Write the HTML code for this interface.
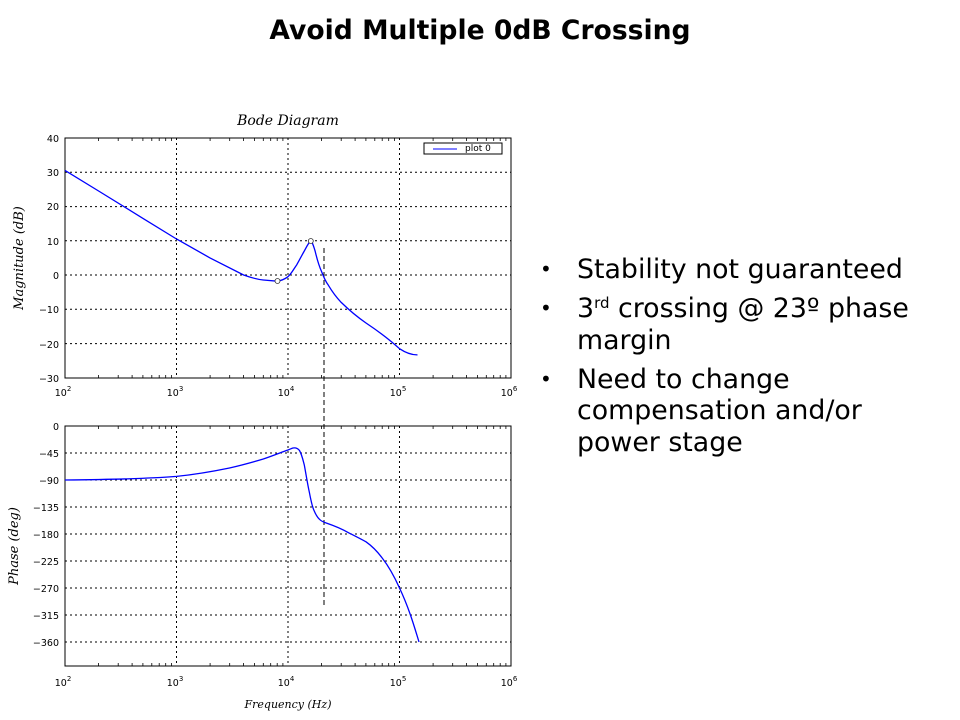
<!DOCTYPE html>
<html><head><meta charset="utf-8"><style>
body{margin:0;width:960px;height:720px;background:#fff;overflow:hidden;font-family:"DejaVu Sans","Liberation Sans",sans-serif;position:relative}
.t{position:absolute;top:15px;left:0;width:960px;text-align:center;font-weight:bold;font-size:26.6px;color:#000}
ul{position:absolute;left:540px;top:254px;width:385px;margin:0;padding:0;list-style:none;font-size:26.8px;line-height:31.5px;color:#000}
li{position:relative;padding-left:37px;margin-bottom:7.5px}
li:before{content:"•";position:absolute;left:0;font-size:20px}
sup{font-size:15px;vertical-align:top;line-height:20px}
</style></head><body>
<div class="t">Avoid Multiple 0dB Crossing</div>
<svg width="960" height="720" style="position:absolute;left:0;top:0" font-family="DejaVu Sans,sans-serif" font-size="9.5">
<defs>
<g id="mt">
<path d="M33.6,0v3M53.2,0v3M67.1,0v3M77.9,0v3M86.8,0v3M94.2,0v3M100.7,0v3M106.4,0v3" stroke="#000" stroke-width="0.8"/>
</g>
<g id="mb">
<path d="M33.6,0v-3M53.2,0v-3M67.1,0v-3M77.9,0v-3M86.8,0v-3M94.2,0v-3M100.7,0v-3M106.4,0v-3" stroke="#000" stroke-width="0.8"/>
</g>
</defs>
<text x="288" y="125" text-anchor="middle" font-family="DejaVu Serif,serif" font-style="italic" font-size="14">Bode Diagram</text>
<g stroke="#000" stroke-width="1" stroke-dasharray="2,3" fill="none">
<path d="M176.5,138V378M288,138V378M399.5,138V378"/>
<path d="M65,172.3H511M65,206.6H511M65,240.7H511M65,275H511M65,309.3H511M65,343.6H511"/>
<path d="M176.5,426V666M288,426V666M399.5,426V666"/>
<path d="M65,453H511M65,480H511M65,507H511M65,534H511M65,561H511M65,588H511M65,615H511M65,642H511"/>
</g>
<rect x="65" y="138" width="446" height="240" fill="none" stroke="#000"/>
<rect x="65" y="426" width="446" height="240" fill="none" stroke="#000"/>
<use href="#mt" x="65" y="138"/><use href="#mt" x="176.5" y="138"/><use href="#mt" x="288" y="138"/><use href="#mt" x="399.5" y="138"/>
<use href="#mb" x="65" y="378"/><use href="#mb" x="176.5" y="378"/><use href="#mb" x="288" y="378"/><use href="#mb" x="399.5" y="378"/>
<use href="#mt" x="65" y="426"/><use href="#mt" x="176.5" y="426"/><use href="#mt" x="288" y="426"/><use href="#mt" x="399.5" y="426"/>
<use href="#mb" x="65" y="666"/><use href="#mb" x="176.5" y="666"/><use href="#mb" x="288" y="666"/><use href="#mb" x="399.5" y="666"/>
<g text-anchor="end" fill="#000">
<text x="59" y="142">40</text><text x="59" y="176">30</text><text x="59" y="210">20</text><text x="59" y="245">10</text><text x="59" y="279">0</text><text x="59" y="313">−10</text><text x="59" y="348">−20</text><text x="59" y="382">−30</text>
<text x="59" y="430">0</text><text x="59" y="457">−45</text><text x="59" y="484">−90</text><text x="59" y="511">−135</text><text x="59" y="538">−180</text><text x="59" y="565">−225</text><text x="59" y="592">−270</text><text x="59" y="619">−315</text><text x="59" y="646">−360</text>
</g>
<g fill="#000" text-anchor="middle">
<text x="63" y="396">10<tspan font-size="7" dy="-5">2</tspan></text>
<text x="175" y="396">10<tspan font-size="7" dy="-5">3</tspan></text>
<text x="286" y="396">10<tspan font-size="7" dy="-5">4</tspan></text>
<text x="398" y="396">10<tspan font-size="7" dy="-5">5</tspan></text>
<text x="509" y="396">10<tspan font-size="7" dy="-5">6</tspan></text>
<text x="63" y="686">10<tspan font-size="7" dy="-5">2</tspan></text>
<text x="175" y="686">10<tspan font-size="7" dy="-5">3</tspan></text>
<text x="286" y="686">10<tspan font-size="7" dy="-5">4</tspan></text>
<text x="398" y="686">10<tspan font-size="7" dy="-5">5</tspan></text>
<text x="509" y="686">10<tspan font-size="7" dy="-5">6</tspan></text>
</g>
<text transform="translate(23,258) rotate(-90)" text-anchor="middle" font-family="DejaVu Serif,serif" font-style="italic" font-size="13">Magnitude (dB)</text>
<text transform="translate(18,546) rotate(-90)" text-anchor="middle" font-family="DejaVu Serif,serif" font-style="italic" font-size="13">Phase (deg)</text>
<text x="288" y="708" text-anchor="middle" font-family="DejaVu Serif,serif" font-style="italic" font-size="11">Frequency (Hz)</text>
<rect x="424" y="143" width="78" height="11" fill="#fff" stroke="#000"/>
<line x1="433" y1="149" x2="457" y2="149" stroke="#00f"/>
<text x="465" y="151" font-size="9">plot 0</text>
<line x1="324" y1="248" x2="324" y2="608" stroke="#000" stroke-dasharray="5,3"/>
<path d="M65,170.4 L98.6,191 L143,218.4 L176.5,239 L210,257.9 L243.6,275 C252,278 258,279.5 263.3,280 L277.2,281.2 C282,280.5 285,279 288,276.7 C292,273 294,268.5 296.8,264.7 C300,259 302,255 304.3,251 C307,246 309,242 310.8,240.7 C312.5,242 313.5,246 315.1,251 C317,259 319,266 321.6,271.6 C324,278 326,282 328.4,285.3 C333,293 337,298 341.2,302.4 C350,311 358,317.5 366,323 C378,331 390,340 399.5,348.7 C406,353 412,355 417.5,354.9" fill="none" stroke="#00f" stroke-width="1.3"/>
<circle cx="277.5" cy="281" r="2.5" fill="#fff" stroke="#333" stroke-width="0.8"/>
<circle cx="310.8" cy="241" r="2.5" fill="#fff" stroke="#333" stroke-width="0.8"/>
<path d="M65,480 C120,479.5 150,478.5 176.5,476.4 C200,474 215,471 229.5,468 C245,464.5 255,461.5 263.3,459 C275,455 282,452 288,450 C291,448.8 292,448.2 293,448 C296,447.5 298,448.5 299.5,450.5 C302,455 303,460 304.3,465 C306,474 307.5,484 309.3,492 C311,501 312,506 313.8,510 C315.5,514 317,517 319.2,519 C321,521 323,522 326.2,523 C335,526 342,529 348.7,532.8 C355,536 360,538.5 366,541.8 C372,546 377,551 382.2,558 C390,568 395,578 399.5,588 C408,606 413,622 419,642" fill="none" stroke="#00f" stroke-width="1.3"/>
</svg>
<ul>
<li>Stability not guaranteed</li>
<li>3<sup>rd</sup> crossing @ 23º phase margin</li>
<li>Need to change compensation and/or power stage</li>
</ul>
</body></html>
